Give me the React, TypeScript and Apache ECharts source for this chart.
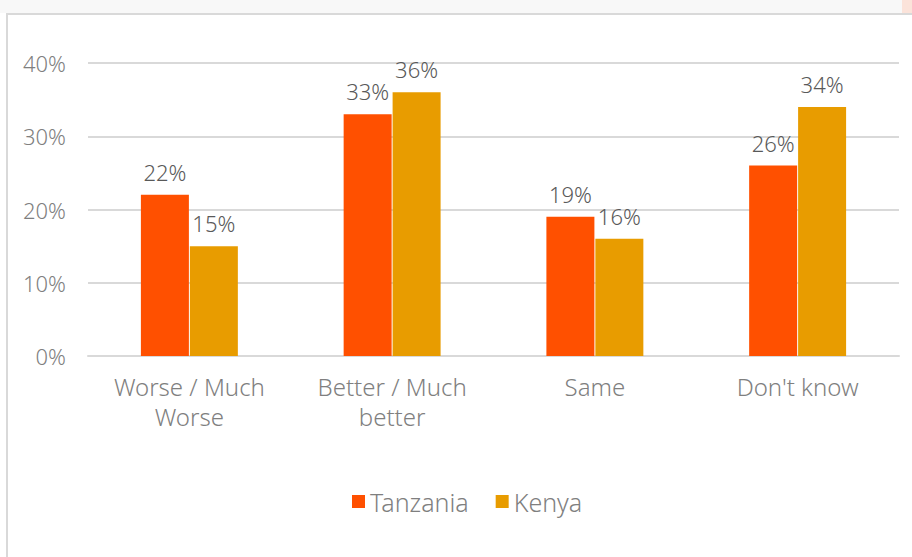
import React, { useEffect, useRef } from "react";
import * as echarts from "echarts";

const categories = ["Worse / Much\nWorse", "Better / Much\nbetter", "Same", "Don't know"];
const seriesNames = ["Tanzania", "Kenya"];
const tanzania = [22, 33, 19, 26];
const kenya = [15, 36, 16, 34];
const yTicks = [0, 10, 20, 30, 40];

const FONT = "'Noto Sans', sans-serif";
const TEXT = "#7f7f7f";

export default function App() {
  const ref = useRef<HTMLDivElement>(null);
  useEffect(() => {
    if (!ref.current) return;
    const chart = echarts.init(ref.current, undefined, { renderer: "svg" });
    const labelStyle = {
      show: true,
      position: "top" as const,
      distance: 12,
      formatter: "{c}%",
      color: "#595959",
      fontSize: 22,
      fontWeight: 300,
      fontFamily: FONT,
    };
    chart.setOption({
      animation: false,
      backgroundColor: "#ffffff",
      textStyle: { fontFamily: FONT },
      graphic: [
        {
          type: "rect",
          shape: { x: 0, y: 0, width: 912, height: 13 },
          style: { fill: "#f8f8f8" },
          silent: true,
        },
        {
          type: "rect",
          shape: { x: 902, y: 0, width: 10, height: 13 },
          style: { fill: "#fbe3da" },
          silent: true,
        },
        {
          type: "rect",
          shape: { x: 7, y: 14, width: 920, height: 560 },
          style: { fill: "#ffffff", stroke: "#d9d9d9", lineWidth: 2 },
          silent: true,
          z: -1,
        },
      ],
      grid: { left: 88, right: 13, top: 63, bottom: 201, containLabel: false },
      legend: {
        data: seriesNames,
        top: 484,
        left: 347,
        icon: "rect",
        itemWidth: 13,
        itemHeight: 13,
        itemGap: 27,
        textStyle: { color: TEXT, fontSize: 25, fontWeight: 300, fontFamily: FONT },
      },
      xAxis: {
        type: "category",
        data: categories,
        axisLine: { show: true, lineStyle: { color: "#d9d9d9", width: 2 } },
        axisTick: { show: false },
        axisLabel: {
          color: TEXT,
          fontSize: 24,
          fontWeight: 300,
          lineHeight: 30,
          margin: 15,
          fontFamily: FONT,
          interval: 0,
        },
      },
      yAxis: {
        type: "value",
        min: yTicks[0],
        max: yTicks[yTicks.length - 1],
        interval: 10,
        axisLine: { show: false },
        axisTick: { show: false },
        splitLine: { lineStyle: { color: "#d9d9d9", width: 2 } },
        axisLabel: {
          formatter: "{value}%",
          color: TEXT,
          fontSize: 22,
          fontWeight: 300,
          margin: 22,
          fontFamily: FONT,
        },
      },
      series: [
        {
          name: seriesNames[0],
          type: "bar",
          data: tanzania,
          barWidth: 48,
          barGap: "2%",
          itemStyle: { color: "#ff5000" },
          label: labelStyle,
        },
        {
          name: seriesNames[1],
          type: "bar",
          data: kenya,
          barWidth: 48,
          barGap: "2%",
          itemStyle: { color: "#e89c00" },
          label: labelStyle,
        },
      ],
    });
    return () => chart.dispose();
  }, []);
  return (
    <div
      ref={ref}
      style={{ position: "fixed", left: 0, top: 0, width: 912, height: 557 }}
    />
  );
}
